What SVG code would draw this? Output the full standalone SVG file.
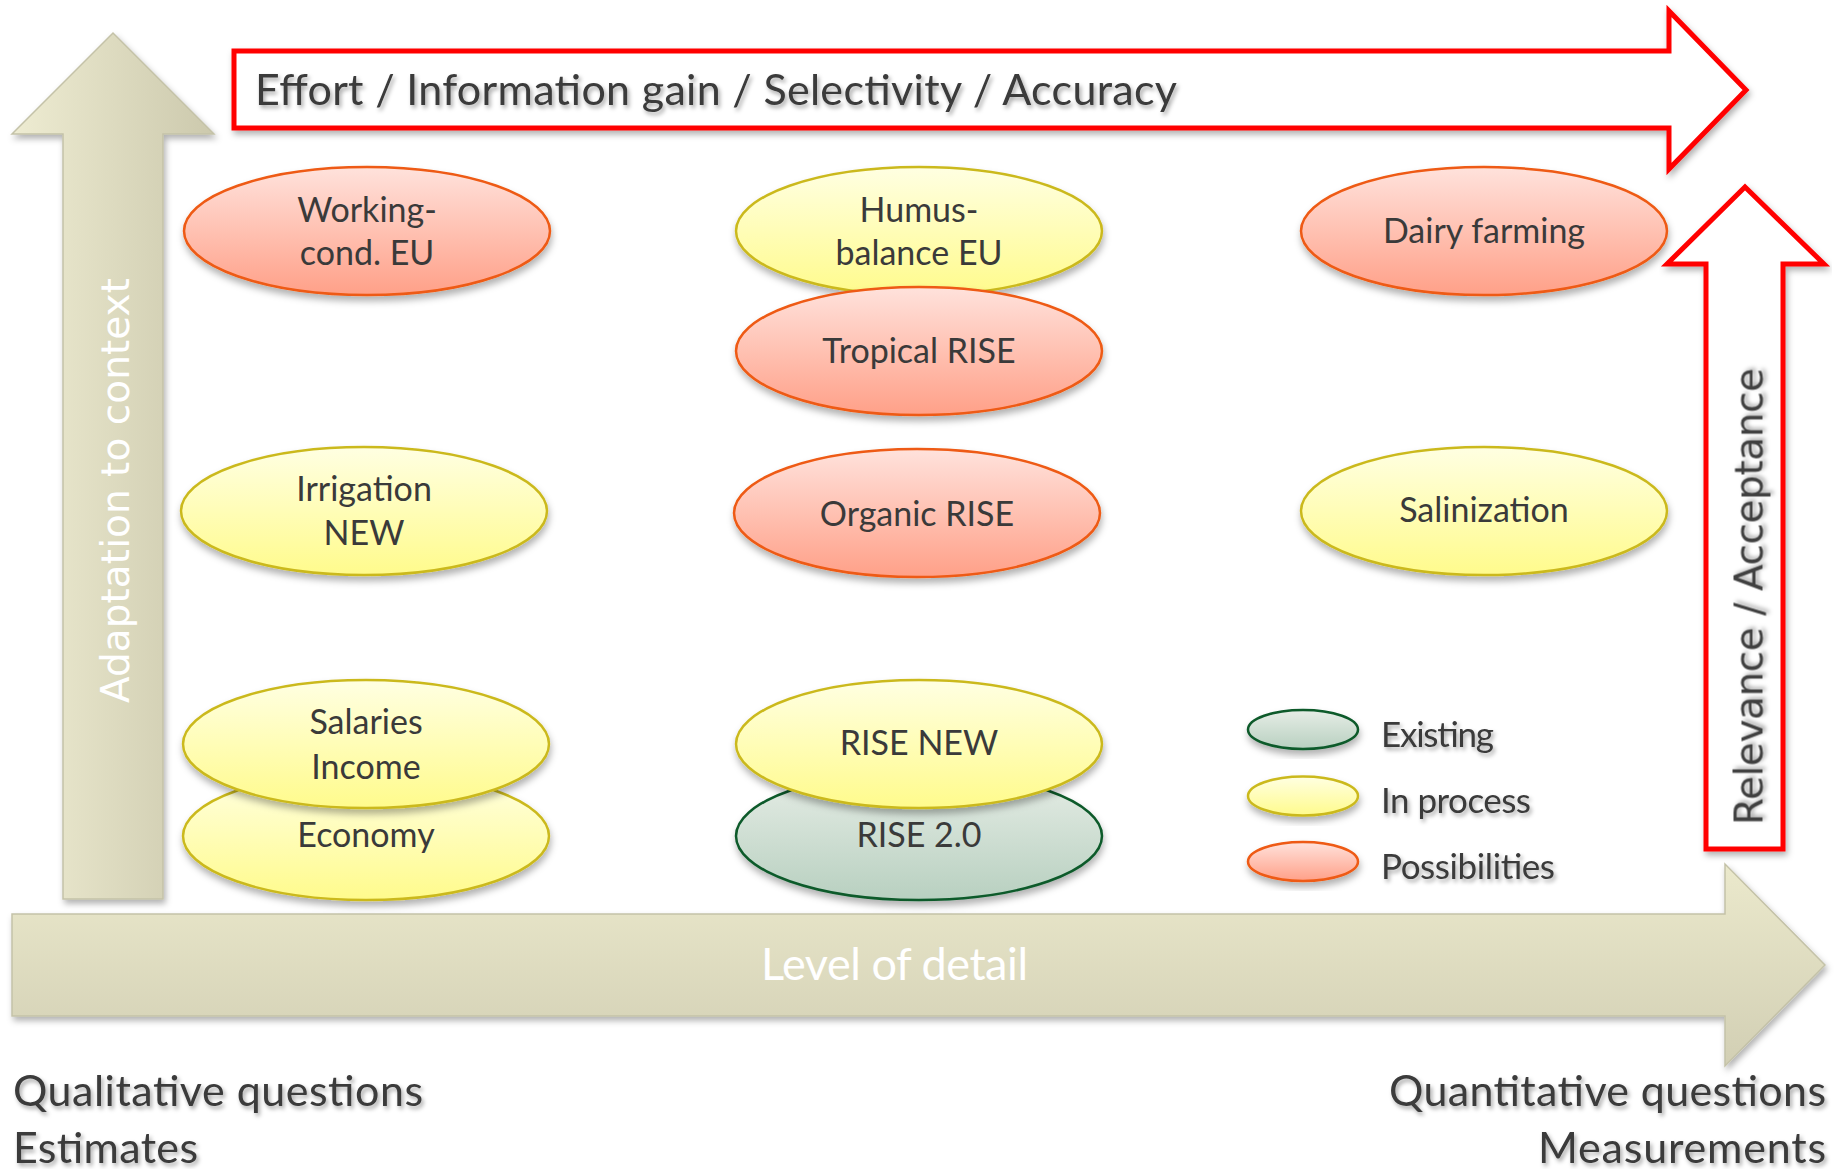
<svg xmlns="http://www.w3.org/2000/svg" width="1843" height="1169" viewBox="0 0 1843 1169">
<defs>
<linearGradient id="gRed" x1="0" y1="0" x2="0" y2="1"><stop offset="0" stop-color="#FFE2DC"/><stop offset="1" stop-color="#FFA088"/></linearGradient>
<linearGradient id="gYel" x1="0" y1="0" x2="0" y2="1"><stop offset="0" stop-color="#FFFFE2"/><stop offset="1" stop-color="#FFFB8C"/></linearGradient>
<linearGradient id="gGrn" x1="0" y1="0" x2="0" y2="1"><stop offset="0" stop-color="#E6EDE6"/><stop offset="1" stop-color="#B8D0C0"/></linearGradient>
<linearGradient id="gBeigeV" x1="0" y1="0" x2="1" y2="0"><stop offset="0" stop-color="#EEECD2"/><stop offset="1" stop-color="#CCC9AD"/></linearGradient>
<linearGradient id="gBeigeH" x1="0" y1="0" x2="0" y2="1"><stop offset="0" stop-color="#EBE9CC"/><stop offset="1" stop-color="#D2CFB4"/></linearGradient>
<filter id="shEl" x="-10%" y="-10%" width="120%" height="135%"><feDropShadow dx="1" dy="5" stdDeviation="3.5" flood-color="#000" flood-opacity="0.3"/></filter>
<filter id="shAr" x="-5%" y="-5%" width="110%" height="115%"><feDropShadow dx="2" dy="4" stdDeviation="3" flood-color="#000" flood-opacity="0.3"/></filter>
<filter id="shTx" x="-5%" y="-20%" width="110%" height="150%"><feDropShadow dx="2" dy="3" stdDeviation="2" flood-color="#000" flood-opacity="0.35"/></filter>
</defs>
<style>
.red{fill:url(#gRed);stroke:#EE5A12;stroke-width:2.5}
.yel{fill:url(#gYel);stroke:#CBB91E;stroke-width:2.5}
.grn{fill:url(#gGrn);stroke:#0B5A2A;stroke-width:2.5}
.el{filter:url(#shEl)}
.t{font-family:Lato,"Liberation Sans",sans-serif;font-size:34px;fill:#3A3A3A;text-anchor:middle}
.lg{font-family:Lato,"Liberation Sans",sans-serif;font-size:35px;fill:#3A3A3A;filter:url(#shTx)}
.big{font-family:Lato,"Liberation Sans",sans-serif;font-size:43px;fill:#3A3A3A;filter:url(#shTx)}
.vt{font-family:"DejaVu Sans",Verdana,sans-serif;font-size:39px;text-anchor:middle}
.redar{fill:#FFFFFF;stroke:#FF0000;stroke-width:5;filter:url(#shAr)}
</style>
<rect width="1843" height="1169" fill="#FFFFFF"/>

<g id="connectors">
<g id="axis-adaptation">
<path d="M63,899 L63,134 L12,134 L113,33 L214,134 L163,134 L163,899 Z" fill="url(#gBeigeV)" stroke="#C4C2A8" stroke-width="1.5" filter="url(#shAr)"/>
<text class="vt" x="129" y="490.5" transform="rotate(-90 129 490.5)" fill="#FFFFFF" textLength="425" lengthAdjust="spacing">Adaptation to context</text>
</g>
<g id="axis-detail">
<path d="M12,914 L1725,914 L1725,864 L1825,965 L1725,1066 L1725,1016 L12,1016 Z" fill="url(#gBeigeH)" stroke="#C4C2A8" stroke-width="1.5" filter="url(#shAr)"/>
<text x="894.5" y="980" font-family="Lato,'Liberation Sans',sans-serif" font-size="45" fill="#FFFFFF" text-anchor="middle" textLength="267" lengthAdjust="spacing">Level of detail</text>
</g>
<g id="axis-effort">
<path class="redar" d="M234,51 L1669,51 L1669,11 L1746,90 L1669,169 L1669,128 L234,128 Z"/>
<text class="big" x="255" y="105" textLength="922" lengthAdjust="spacing">Effort / Information gain / Selectivity / Accuracy</text>
</g>
<g id="axis-relevance">
<path class="redar" d="M1706,849 L1706,264 L1667,264 L1745,187 L1824,264 L1783,264 L1783,849 Z"/>
<text class="vt" x="1762" y="596.5" transform="rotate(-90 1762 596.5)" fill="#404040" filter="url(#shTx)" textLength="457" lengthAdjust="spacing">Relevance / Acceptance</text>
</g>
</g>

<g id="node-working">
<ellipse class="red el" cx="367" cy="231" rx="183" ry="64"/>
<text class="t" x="367" y="222">Working-</text>
<text class="t" x="367" y="265">cond. EU</text>
</g>
<g id="node-humus">
<ellipse class="yel el" cx="919" cy="231" rx="183" ry="64"/>
<text class="t" x="919" y="222">Humus-</text>
<text class="t" x="919" y="265">balance EU</text>
</g>
<g id="node-tropical">
<ellipse class="red el" cx="919" cy="351" rx="183" ry="64"/>
<text class="t" x="919" y="363">Tropical RISE</text>
</g>
<g id="node-dairy">
<ellipse class="red el" cx="1484" cy="231" rx="183" ry="64"/>
<text class="t" x="1484" y="243">Dairy farming</text>
</g>
<g id="node-irrigation">
<ellipse class="yel el" cx="364" cy="511" rx="183" ry="64"/>
<text class="t" x="364" y="501">Irrigation</text>
<text class="t" x="364" y="545">NEW</text>
</g>
<g id="node-organic">
<ellipse class="red el" cx="917" cy="513" rx="183" ry="64"/>
<text class="t" x="917" y="526">Organic RISE</text>
</g>
<g id="node-salinization">
<ellipse class="yel el" cx="1484" cy="511" rx="183" ry="64"/>
<text class="t" x="1484" y="522">Salinization</text>
</g>
<g id="node-economy">
<ellipse class="yel el" cx="366" cy="836" rx="183" ry="64"/>
<text class="t" x="366" y="847">Economy</text>
</g>
<g id="node-salaries">
<ellipse class="yel el" cx="366" cy="744" rx="183" ry="64"/>
<text class="t" x="366" y="734">Salaries</text>
<text class="t" x="366" y="779">Income</text>
</g>
<g id="node-rise20">
<ellipse class="grn el" cx="919" cy="836" rx="183" ry="64"/>
<text class="t" x="919" y="847">RISE 2.0</text>
</g>
<g id="node-risenew">
<ellipse class="yel el" cx="919" cy="744" rx="183" ry="64"/>
<text class="t" x="919" y="755">RISE NEW</text>
</g>

<g id="legend">
<ellipse class="grn el" cx="1303" cy="729.5" rx="55" ry="19.5"/>
<text class="lg" x="1381" y="747" textLength="113" lengthAdjust="spacing">Existing</text>
<ellipse class="yel el" cx="1303" cy="796" rx="55" ry="19.5"/>
<text class="lg" x="1381" y="813" textLength="150" lengthAdjust="spacing">In process</text>
<ellipse class="red el" cx="1303" cy="861.5" rx="55" ry="19.5"/>
<text class="lg" x="1381" y="879" textLength="174" lengthAdjust="spacing">Possibilities</text>
</g>

<g id="captions">
<text class="big" x="13" y="1106" textLength="410" lengthAdjust="spacing">Qualitative questions</text>
<text class="big" x="13" y="1163" textLength="185" lengthAdjust="spacing">Estimates</text>
<text class="big" x="1389" y="1106" textLength="437" lengthAdjust="spacing">Quantitative questions</text>
<text class="big" x="1538" y="1163" textLength="288" lengthAdjust="spacing">Measurements</text>
</g>
</svg>
